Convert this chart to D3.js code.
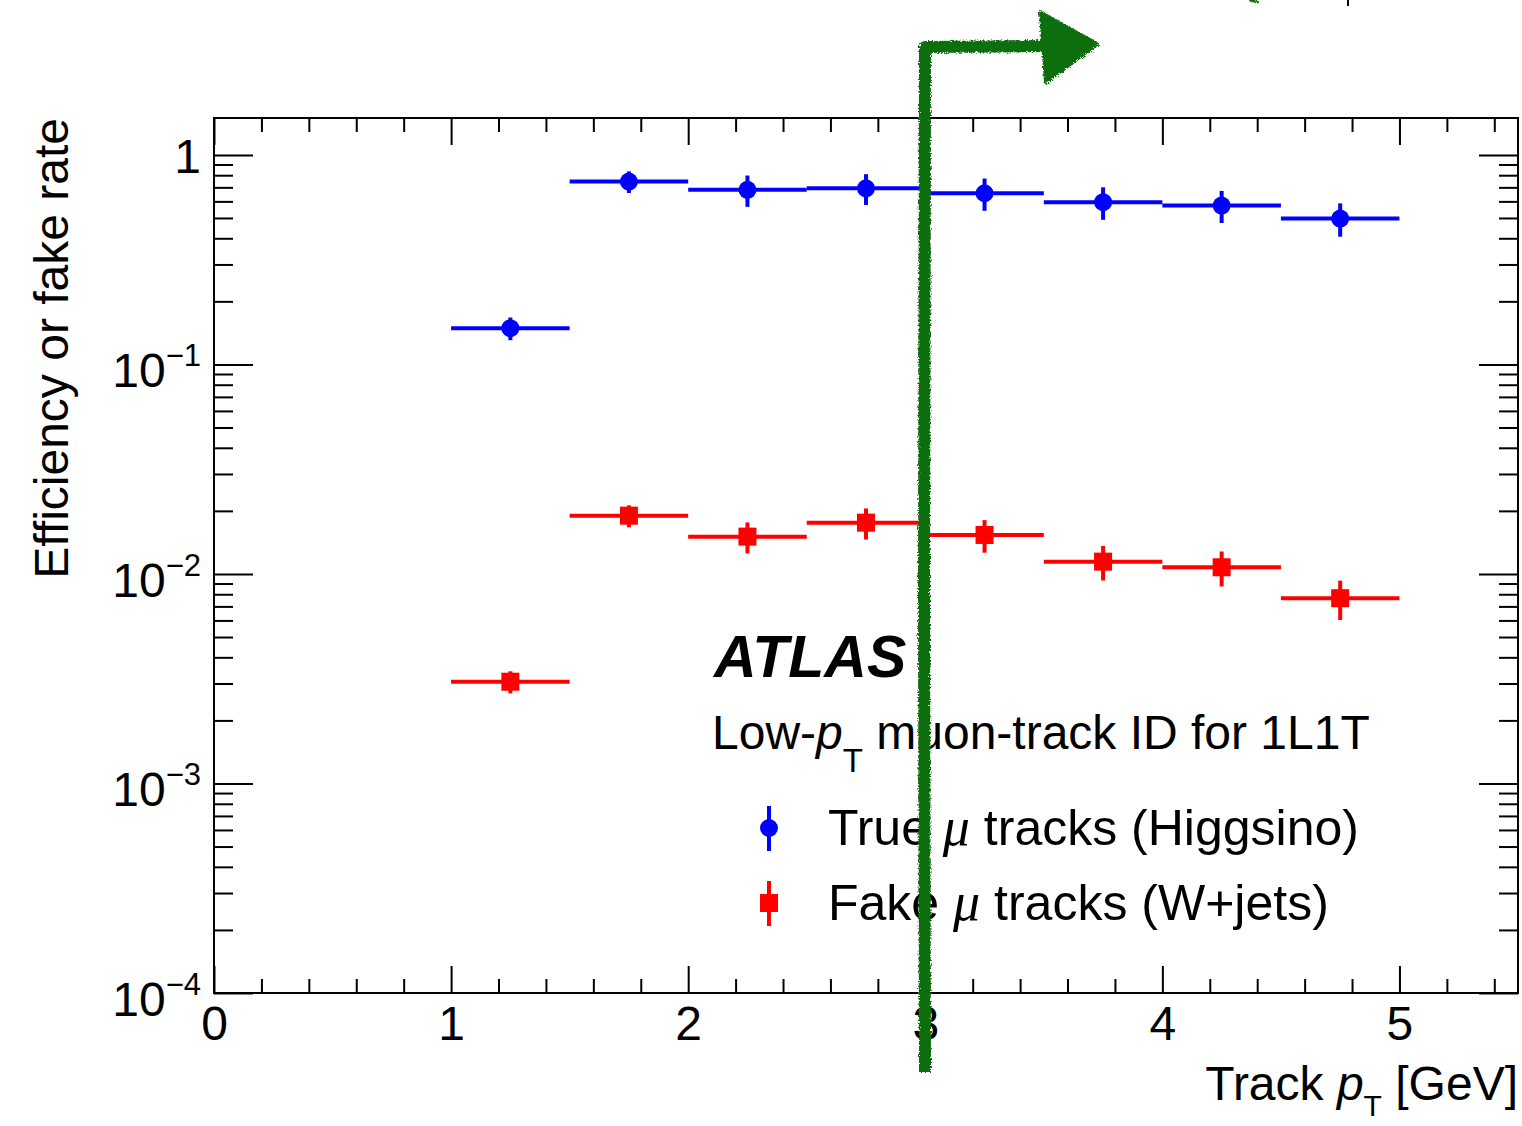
<!DOCTYPE html>
<html><head><meta charset="utf-8">
<script src="https://cdn.jsdelivr.net/npm/d3@7"></script>
<style>body{margin:0;background:#fff}svg{display:block}</style>
</head><body>
<script>
// ---- data ----
const binEdges = [1, 1.5, 2, 2.5, 3, 3.5, 4, 4.5, 5];
const trueEff  = [0.149, 0.746, 0.681, 0.693, 0.656, 0.595, 0.573, 0.497];
const trueErr  = [0.0185, 0.088, 0.116, 0.116, 0.115, 0.105, 0.100, 0.090];
const fakeRate = [0.00306, 0.01897, 0.01507, 0.01757, 0.01535, 0.01145, 0.01076, 0.00766];
const fakeErr  = [0.00037, 0.00228, 0.00254, 0.00297, 0.00272, 0.00215, 0.00204, 0.00163];
const xMajorTicks = [0, 1, 2, 3, 4, 5];
const xTickLabels = ["0", "1", "2", "3", "4", "5"];
const yTickExps = [-4, -3, -2, -1, 0];
const legendLabels = ["True", "Fake"];
const legendTails = [" tracks (Higgsino)", " tracks (W+jets)"];

// ---- setup ----
const W = 1522, H = 1126;
const FONT = "'Liberation Sans', Arial, Helvetica, sans-serif";
const SERIF = "'Liberation Serif', 'Times New Roman', serif";
const svg = d3.select("body").append("svg").attr("width", W).attr("height", H)
  .style("font-family", FONT);
const m = {l: 214, r: 1518, t: 118, b: 993};
const x = d3.scaleLinear().domain([0, 5.5]).range([m.l, m.r]);
const y = d3.scaleLog().domain([1e-4, 1.5]).range([m.b, m.t]);

const xMinor = d3.range(1, 28).map(i => +(i * 0.2).toFixed(1)).filter(v => Math.abs(v - Math.round(v)) > 1e-6);
const yMajor = yTickExps.map(e => Math.pow(10, e));
const yMinor = [];
yTickExps.forEach(e => { for (let k = 2; k <= 9; k++) { const v = k * Math.pow(10, e); if (v <= 1.5) yMinor.push(v); } });

function styleAxis(g) {
  g.select(".domain").remove();
  g.selectAll(".tick line").attr("stroke", "#000").attr("stroke-width", 2);
}

// x axes
svg.append("g").attr("transform", `translate(0,${m.b})`)
  .call(d3.axisBottom(x).tickValues(xMajorTicks).tickSize(-27).tickPadding(13)
    .tickFormat((d, i) => xTickLabels[i]))
  .call(styleAxis)
  .call(g => g.selectAll("text").attr("font-size", 48).attr("font-family", FONT).attr("fill", "#000"));
svg.append("g").attr("transform", `translate(0,${m.b})`)
  .call(d3.axisBottom(x).tickValues(xMinor).tickSize(-14).tickFormat("")).call(styleAxis);
svg.append("g").attr("transform", `translate(0,${m.t})`)
  .call(d3.axisTop(x).tickValues(xMajorTicks).tickSize(-27).tickFormat("")).call(styleAxis);
svg.append("g").attr("transform", `translate(0,${m.t})`)
  .call(d3.axisTop(x).tickValues(xMinor).tickSize(-14).tickFormat("")).call(styleAxis);

// y axes
svg.append("g").attr("transform", `translate(${m.l},0)`)
  .call(d3.axisLeft(y).tickValues(yMajor).tickSize(-39).tickFormat("")).call(styleAxis);
svg.append("g").attr("transform", `translate(${m.l},0)`)
  .call(d3.axisLeft(y).tickValues(yMinor).tickSize(-19).tickFormat("")).call(styleAxis);
svg.append("g").attr("transform", `translate(${m.r},0)`)
  .call(d3.axisRight(y).tickValues(yMajor).tickSize(-39).tickFormat("")).call(styleAxis);
svg.append("g").attr("transform", `translate(${m.r},0)`)
  .call(d3.axisRight(y).tickValues(yMinor).tickSize(-19).tickFormat("")).call(styleAxis);

// y tick labels
yTickExps.forEach(e => {
  const v = Math.pow(10, e);
  const t = svg.append("text").attr("x", 201).attr("text-anchor", "end").attr("fill", "#000");
  if (e === 0) {
    t.attr("y", y(v) + 18).attr("font-size", 48).text("1");
  } else {
    t.attr("y", y(v) + 23);
    t.append("tspan").attr("font-size", 48).text("10");
    t.append("tspan").attr("font-size", 31).attr("dy", -21).text("\u2212" + (-e));
  }
});

// frame
svg.append("rect").attr("x", m.l).attr("y", m.t).attr("width", m.r - m.l).attr("height", m.b - m.t)
  .attr("fill", "none").attr("stroke", "#000").attr("stroke-width", 2);

// axis titles
svg.append("text").attr("transform", `translate(68,${m.t}) rotate(-90)`)
  .attr("text-anchor", "end").attr("font-size", 48).attr("fill", "#000")
  .text("Efficiency or fake rate");
const xt = svg.append("text").attr("x", m.r).attr("y", 1100).attr("text-anchor", "end")
  .attr("font-size", 48).attr("fill", "#000");
xt.append("tspan").text("Track ");
xt.append("tspan").attr("font-style", "italic").text("p");
xt.append("tspan").attr("font-size", 30).attr("dy", 16).text("T");
xt.append("tspan").attr("dy", -16).text(" [GeV]");

// ---- data series ----
const bins = d3.range(trueEff.length).map(i => ({lo: binEdges[i], hi: binEdges[i + 1], c: (binEdges[i] + binEdges[i + 1]) / 2}));
function drawSeries(vals, errs, color, shape) {
  const g = svg.append("g");
  bins.forEach((b, i) => {
    const v = vals[i], e = errs[i];
    g.append("line").attr("x1", x(b.lo)).attr("x2", x(b.hi)).attr("y1", y(v)).attr("y2", y(v))
      .attr("stroke", color).attr("stroke-width", 4);
    g.append("line").attr("x1", x(b.c)).attr("x2", x(b.c)).attr("y1", y(v + e)).attr("y2", y(v - e))
      .attr("stroke", color).attr("stroke-width", 4);
    if (shape === "circle") {
      g.append("circle").attr("cx", x(b.c)).attr("cy", y(v)).attr("r", 9).attr("fill", color);
    } else {
      g.append("rect").attr("x", x(b.c) - 9).attr("y", y(v) - 9).attr("width", 18).attr("height", 18).attr("fill", color);
    }
  });
}
drawSeries(trueEff, trueErr, "#0000ff", "circle");
drawSeries(fakeRate, fakeErr, "#ff0000", "square");

// ---- labels ----
svg.append("text").attr("x", 714).attr("y", 677).attr("font-size", 59).attr("font-weight", "bold")
  .attr("font-style", "italic").attr("fill", "#000").text("ATLAS");
const lp = svg.append("text").attr("x", 712).attr("y", 749).attr("font-size", 48).attr("fill", "#000");
lp.append("tspan").text("Low-");
lp.append("tspan").attr("font-style", "italic").text("p");
lp.append("tspan").attr("font-size", 33).attr("dy", 23).text("T");
lp.append("tspan").attr("dy", -23).text(" muon-track ID for 1L1T");

// legend
const legY = [828, 903];
const legColors = ["#0000ff", "#ff0000"];
legY.forEach((ly, i) => {
  svg.append("line").attr("x1", 769).attr("x2", 769).attr("y1", ly - 22).attr("y2", ly + 23)
    .attr("stroke", legColors[i]).attr("stroke-width", 4);
  if (i === 0) svg.append("circle").attr("cx", 769).attr("cy", ly).attr("r", 9).attr("fill", legColors[i]);
  else svg.append("rect").attr("x", 760).attr("y", ly - 9).attr("width", 18).attr("height", 18).attr("fill", legColors[i]);
  const t = svg.append("text").attr("x", 828).attr("y", ly + 17).attr("font-size", 50).attr("fill", "#000");
  t.append("tspan").text(legendLabels[i] + " ");
  t.append("tspan").attr("font-family", SERIF).attr("font-style", "italic").attr("font-size", 54).text("\u03bc");
  t.append("tspan").text(legendTails[i]);
});

// ---- hand-drawn green annotation ----
const defs = svg.append("defs");
const f = defs.append("filter").attr("id", "rough").attr("x", "-10%").attr("y", "-10%").attr("width", "120%").attr("height", "120%");
f.append("feTurbulence").attr("type", "fractalNoise").attr("baseFrequency", 0.6).attr("numOctaves", 2).attr("result", "n");
f.append("feDisplacementMap").attr("in", "SourceGraphic").attr("in2", "n").attr("scale", 5);
const ann = svg.append("g").attr("filter", "url(#rough)");
const GREEN = "#0b6e0b";
ann.append("path").attr("d", "M925,1072 L924,600 L925,47 L1050,46")
  .attr("fill", "none").attr("stroke", GREEN).attr("stroke-width", 12).attr("stroke-linejoin", "round");
ann.append("path").attr("d", "M1041,13 L1097,44 L1046,82 Z").attr("fill", GREEN).attr("stroke", GREEN)
  .attr("stroke-width", 4).attr("stroke-linejoin", "round");
ann.append("path").attr("d", "M1250,0 L1258,2").attr("stroke", GREEN).attr("stroke-width", 3);
svg.append("line").attr("x1", 1348).attr("x2", 1348).attr("y1", 0).attr("y2", 6).attr("stroke", "#000").attr("stroke-width", 2);
</script>
</body></html>
